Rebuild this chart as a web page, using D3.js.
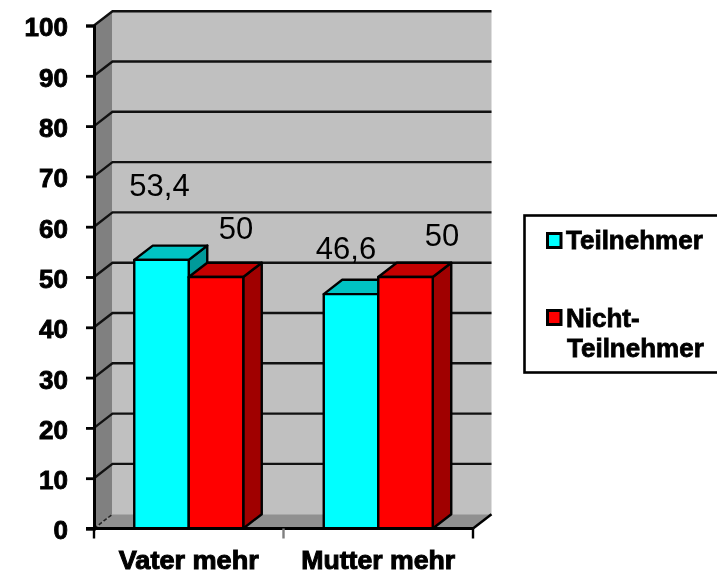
<!DOCTYPE html>
<html>
<head>
<meta charset="utf-8">
<script src="https://cdn.jsdelivr.net/npm/d3@7"></script>
<style>
  html, body { margin: 0; padding: 0; background: #fff; }
  text { font-family: "Liberation Sans", Arial, sans-serif; fill: #000; }
</style>
</head>
<body>
<div id="chart"></div>
<script>
// chart values
const categories = ["Vater mehr", "Mutter mehr"];
const seriesNames = ["Teilnehmer", "Nicht-Teilnehmer"];
const teilnehmer = [53.4, 46.6];
const nichtTeilnehmer = [50, 50];
const valueLabels = [["53,4", "46,6"], ["50", "50"]];
const yTicks = [0, 10, 20, 30, 40, 50, 60, 70, 80, 90, 100];

const colors = [
  {front: "#00ffff", top: "#00c4c4", side: "#009a9a"},
  {front: "#ff0000", top: "#c40000", side: "#a00000"}
];

const width = 717, height = 574;
const depthX = 18.5, depthY = -14.3;

let svg = d3.select("#chart").append("svg")
  .attr("width", width)
  .attr("height", height)
  .style("display", "block")
  .style("filter", "blur(0.45px)");

let y = d3.scaleLinear().domain([0, 100]).range([528.5, 25.5]);
let x = d3.scaleBand().domain(categories).range([94, 473]);
let xSeries = d3.scaleBand().domain(d3.range(2)).range([-54.5, 54.5]);

const x0 = x.range()[0], x1 = x.range()[1];
const poly = pts => pts.map(p => p.join(",")).join(" ");

// left wall, back wall, floor
svg.append("polygon")
  .attr("points", poly([[x0, y(0)], [x0, y(100)], [x0 + depthX, y(100) + depthY], [x0 + depthX, y(0) + depthY]]))
  .attr("fill", "#808080");
svg.append("polygon")
  .attr("points", poly([[x0 + depthX, y(0) + depthY], [x0 + depthX, y(100) + depthY], [x1 + depthX, y(100) + depthY], [x1 + depthX, y(0) + depthY]]))
  .attr("fill", "#c0c0c0");
svg.append("polygon")
  .attr("points", poly([[x0, y(0)], [x0 + depthX, y(0) + depthY], [x1 + depthX, y(0) + depthY], [x1, y(0)]]))
  .attr("fill", "#909090");

// gridlines on the walls
yTicks.filter(d => d > 0).forEach(d => {
  svg.append("polyline")
    .attr("points", poly([[x0, y(d)], [x0 + depthX, y(d) + depthY], [x1 + depthX, y(d) + depthY]]))
    .attr("fill", "none")
    .attr("stroke", "#111")
    .attr("stroke-width", 2.4);
});
svg.append("line")
  .attr("x1", x0).attr("y1", y(0))
  .attr("x2", x0 + depthX).attr("y2", y(0) + depthY)
  .attr("stroke", "#222").attr("stroke-dasharray", "4,2").attr("stroke-width", 1.5);
svg.append("line")
  .attr("x1", x1).attr("y1", y(0))
  .attr("x2", x1 + depthX).attr("y2", y(0) + depthY)
  .attr("stroke", "#000").attr("stroke-width", 2.5);

// y axis
let yAxis = svg.append("g")
  .attr("transform", `translate(${x0},0)`)
  .call(d3.axisLeft(y).tickValues(yTicks).tickSize(8).tickPadding(18));
yAxis.select(".domain").attr("stroke", "#000").attr("stroke-width", 3);
yAxis.selectAll(".tick line").attr("stroke", "#000").attr("stroke-width", 2.8);
yAxis.selectAll("text")
  .attr("font-size", 26)
  .attr("font-weight", "bold")
  .attr("font-family", "Liberation Sans")
  .attr("dy", "0.4em")
  .attr("stroke", "#000").attr("stroke-width", 0.9);

// bars
const seriesValues = [teilnehmer, nichtTeilnehmer];
categories.forEach((cat, c) => {
  seriesNames.forEach((name, s) => {
    let v = seriesValues[s][c];
    let left = x(cat) + x.bandwidth() / 2 + xSeries(s);
    let right = left + xSeries.bandwidth();
    let g = svg.append("g").attr("stroke", "#000").attr("stroke-width", 2.4).attr("stroke-linejoin", "round");
    g.append("polygon")
      .attr("points", poly([[right, y(0)], [right, y(v)], [right + depthX, y(v) + depthY], [right + depthX, y(0) + depthY]]))
      .attr("fill", colors[s].side);
    g.append("polygon")
      .attr("points", poly([[left, y(v)], [left + depthX, y(v) + depthY], [right + depthX, y(v) + depthY], [right, y(v)]]))
      .attr("fill", colors[s].top);
    g.append("rect")
      .attr("x", left).attr("y", y(v))
      .attr("width", xSeries.bandwidth()).attr("height", y(0) - y(v))
      .attr("fill", colors[s].front);
  });
});

// x axis
let xAxisLine = d3.scaleLinear().domain([0, 2]).range([x0, x1]);
let xAxis = svg.append("g").attr("transform", `translate(0,${y(0)})`);
xAxis.append("line").attr("x1", x0 - 8).attr("x2", x1).attr("stroke", "#000").attr("stroke-width", 2.8);
[0, 1, 2].forEach(i => {
  xAxis.append("line")
    .attr("x1", xAxisLine(i)).attr("x2", xAxisLine(i))
    .attr("y1", 0).attr("y2", 10)
    .attr("stroke", i == 1 ? "#808080" : "#000").attr("stroke-width", 2.4);
});
categories.forEach(cat => {
  svg.append("text")
    .attr("x", x(cat) + x.bandwidth() / 2)
    .attr("y", 568.5)
    .attr("text-anchor", "middle")
    .attr("font-size", 26)
    .attr("font-weight", "bold")
    .attr("textLength", cat == categories[0] ? 140 : 154)
    .attr("lengthAdjust", "spacingAndGlyphs")
    .attr("stroke", "#000").attr("stroke-width", 1)
    .text(cat);
});

// value labels
const labelSpots = [[[159.5, 196], [346, 259]], [[236, 239], [442, 246]]];
valueLabels.forEach((row, s) => {
  row.forEach((label, c) => {
    svg.append("text")
      .attr("x", labelSpots[s][c][0])
      .attr("y", labelSpots[s][c][1])
      .attr("text-anchor", "middle")
      .attr("font-size", 31)
      .text(label);
  });
});

// legend
let legend = svg.append("g");
legend.append("rect")
  .attr("x", 524.5).attr("y", 215.5)
  .attr("width", 205).attr("height", 157)
  .attr("fill", "#fff").attr("stroke", "#000").attr("stroke-width", 2.6);
const legendRows = [
  {lines: ["Teilnehmer"], swatchY: 233.5, textY: 249},
  {lines: ["Nicht-", "Teilnehmer"], swatchY: 310.5, textY: 327}
];
legendRows.forEach((row, i) => {
  legend.append("rect")
    .attr("x", 547.5).attr("y", row.swatchY)
    .attr("width", 13.5).attr("height", 14)
    .attr("fill", colors[i].front).attr("stroke", "#000").attr("stroke-width", 3);
  row.lines.forEach((t, j) => {
    legend.append("text")
      .attr("x", 566 + (j > 0 ? 1 : 0))
      .attr("y", row.textY + j * 30)
      .attr("font-size", 26)
      .attr("font-weight", "bold")
      .attr("stroke", "#000").attr("stroke-width", 0.8)
      .text(t);
  });
});
</script>
</body>
</html>
